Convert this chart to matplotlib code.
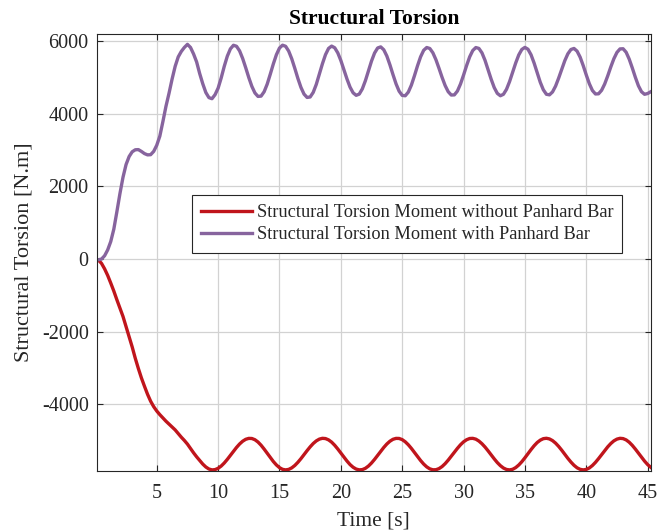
import numpy as np
import matplotlib
matplotlib.use("Agg")
import matplotlib.pyplot as plt

plt.rcParams['font.family'] = ['Liberation Serif', 'DejaVu Serif']
plt.rcParams['axes.unicode_minus'] = False

# simulation time [s], sampled every 0.25 s
time = np.arange(0, 45.26, 0.25)

# structural torsion moment without Panhard bar [N.m]
torsion_no_panhard = [
    0, -30, -120, -270, -450, -660, -880, -1120,
    -1350, -1580, -1860, -2140, -2420, -2730, -3010, -3270,
    -3500, -3720, -3910, -4060, -4180, -4280, -4370, -4460,
    -4540, -4620, -4700, -4800, -4900, -4990, -5090, -5210,
    -5330, -5440, -5540, -5640, -5720, -5775, -5800, -5792,
    -5756, -5694, -5610, -5510, -5401, -5289, -5182, -5087,
    -5011, -4958, -4933, -4936, -4970, -5033, -5121, -5227,
    -5341, -5459, -5569, -5664, -5738, -5784, -5800, -5786,
    -5744, -5678, -5591, -5490, -5380, -5270, -5166, -5074,
    -5002, -4953, -4931, -4938, -4974, -5036, -5122, -5224,
    -5335, -5449, -5556, -5653, -5727, -5777, -5799, -5792,
    -5756, -5694, -5610, -5510, -5401, -5289, -5182, -5087,
    -5011, -4958, -4933, -4935, -4967, -5027, -5109, -5209,
    -5320, -5433, -5542, -5639, -5717, -5771, -5797, -5795,
    -5764, -5708, -5628, -5531, -5425, -5315, -5207, -5109,
    -5028, -4970, -4936, -4932, -4954, -5006, -5080, -5171,
    -5276, -5388, -5496, -5598, -5683, -5748, -5788, -5800,
    -5783, -5736, -5665, -5574, -5467, -5354, -5241, -5136,
    -5047, -4982, -4941, -4930, -4948, -4994, -5064, -5154,
    -5258, -5369, -5482, -5584, -5673, -5742, -5784, -5800,
    -5787, -5746, -5679, -5592, -5490, -5380, -5268, -5165,
    -5074, -5001, -4953, -4931, -4939, -4975, -5039, -5125,
    -5227, -5338, -5450, -5558, -5653, -5727,
]

# structural torsion moment with Panhard bar [N.m]
torsion_panhard = [
    0, -20, 0, 90, 250, 480, 820, 1300,
    1800, 2250, 2600, 2820, 2950, 3005, 3010, 2960,
    2900, 2865, 2870, 2960, 3130, 3380, 3780, 4200,
    4560, 4950, 5300, 5560, 5710, 5820, 5905, 5820,
    5640, 5420, 5100, 4820, 4580, 4440, 4410, 4520,
    4700, 4980, 5300, 5580, 5780, 5880, 5852, 5726,
    5517, 5261, 4991, 4749, 4568, 4473, 4481, 4601,
    4811, 5083, 5367, 5620, 5803, 5882, 5852, 5720,
    5508, 5245, 4968, 4721, 4537, 4445, 4457, 4584,
    4804, 5083, 5371, 5621, 5793, 5857, 5811, 5672,
    5462, 5210, 4953, 4729, 4572, 4503, 4536, 4679,
    4904, 5176, 5445, 5667, 5805, 5835, 5755, 5583,
    5342, 5073, 4818, 4616, 4501, 4491, 4592, 4785,
    5042, 5316, 5563, 5741, 5818, 5791, 5673, 5482,
    5245, 4997, 4772, 4602, 4511, 4515, 4620, 4813,
    5059, 5323, 5562, 5735, 5817, 5793, 5671, 5465,
    5209, 4946, 4716, 4557, 4491, 4531, 4668, 4881,
    5135, 5393, 5615, 5765, 5821, 5770, 5618, 5390,
    5122, 4863, 4656, 4532, 4516, 4596, 4757, 4977,
    5220, 5455, 5645, 5763, 5792, 5718, 5553, 5321,
    5063, 4822, 4636, 4540, 4545, 4641, 4814, 5039,
    5285, 5510, 5683, 5779, 5784, 5687, 5498, 5256,
    4998, 4765, 4602, 4531, 4552, 4600,
]

x_ticks = [5, 10, 15, 20, 25, 30, 35, 40, 45]
y_ticks = [-4000, -2000, 0, 2000, 4000, 6000]

labels = ['Structural Torsion Moment without Panhard Bar',
          'Structural Torsion Moment with Panhard Bar']
colors = ['#C0151C', '#87649E']

text_col = '#262626'

fig = plt.figure(figsize=(6.58, 5.31), dpi=100)
ax = fig.add_axes([0.1474, 0.113, 0.8415, 0.823])

ax.plot(time, torsion_no_panhard, color=colors[0], lw=2.4, label=labels[0])
ax.plot(time, torsion_panhard, color=colors[1], lw=2.4, label=labels[1])

ax.set_xlim(0.13, 45.25)
ax.set_ylim(-5830, 6190)
ax.set_xticks(x_ticks)
ax.set_yticks(y_ticks)
ax.grid(True, color='#d2d2d2', lw=0.9)
ax.set_axisbelow(True)

ax.tick_params(direction='in', length=4, width=0.8, top=True, right=True,
               labelsize=14.5, colors=text_col, pad=6)
ax.tick_params(axis='x', pad=9.5)
for s in ax.spines.values():
    s.set_color(text_col)
    s.set_linewidth(0.8)

ax.set_xlabel('Time [s]', fontsize=15.5, color=text_col, labelpad=6)
ax.set_ylabel('Structural Torsion [N.m]', fontsize=16, color=text_col, labelpad=6)
ax.set_title('Structural Torsion', fontsize=15.5, fontweight='bold', pad=7)

leg = ax.legend(loc='upper left', bbox_to_anchor=(0.171, 0.632), fontsize=13.2,
                handlelength=2.8, handletextpad=0.25, borderpad=0.5,
                labelspacing=0.3, borderaxespad=0, fancybox=False,
                framealpha=1, edgecolor=text_col)
leg.get_frame().set_linewidth(0.8)
for t in leg.get_texts():
    t.set_color(text_col)

fig.savefig('out.png', dpi=100)
